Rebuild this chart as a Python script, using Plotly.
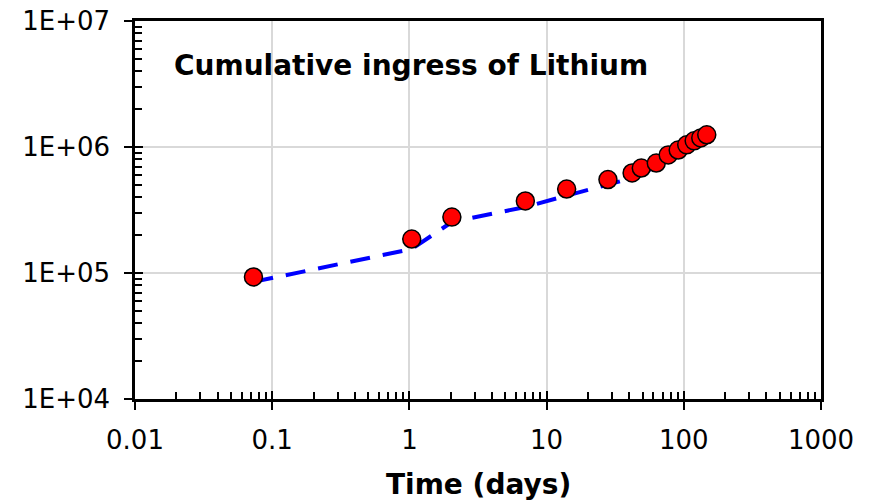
import plotly.graph_objects as go

# ---- data ----
time_days = [0.073, 1.04, 2.04, 7, 14, 28, 42, 49, 63, 77, 91, 105, 119, 133, 147]
measured = [93000, 186000, 278000, 373000, 464000, 552000, 622000, 681000, 746000,
            865000, 946000, 1040000, 1120000, 1180000, 1250000]
model = [85000, 155000, 254000, 334000, 411000, 499000, 567000, 625000, 690000,
         800000, 875000, 960000, 1030000, 1090000, 1160000]

x_tickvals = [0.01, 0.1, 1, 10, 100, 1000]
x_ticktext = ["0.01", "0.1", "1", "10", "100", "1000"]
y_tickvals = [1e4, 1e5, 1e6, 1e7]
y_ticktext = ["1E+04", "1E+05", "1E+06", "1E+07"]

title_text = "Cumulative ingress of Lithium"
x_title = "Time (days)"

FONT = "DejaVu Sans"

# page offset of the figure (default body margin)
OFF = 8
W, H = 871 - OFF, 502 - OFF
L = 135 - OFF
T = 21 - OFF
R = W - (821 - OFF)
B = H - (399 - OFF)
PW, PH = W - L - R, H - T - B

fig = go.Figure()

fig.add_trace(go.Scatter(
    x=time_days, y=model, mode="lines",
    line=dict(color="#0000ff", width=4, dash="20px,13px"),
    hoverinfo="skip", showlegend=False,
))
fig.add_trace(go.Scatter(
    x=time_days, y=measured, mode="markers",
    marker=dict(color="#ff0000", size=18, line=dict(color="black", width=1.5)),
    showlegend=False,
))
# invisible trace to create overlay axes for inside ticks
fig.add_trace(go.Scatter(
    x=time_days, y=measured, mode="markers", xaxis="x2", yaxis="y2",
    marker=dict(opacity=0), hoverinfo="skip", showlegend=False,
))

axis_font = dict(family=FONT, size=26, color="black")

fig.update_layout(
    width=W, height=H,
    margin=dict(l=L, r=R, t=T, b=B, autoexpand=False),
    paper_bgcolor="white", plot_bgcolor="white",
    xaxis=dict(
        type="log", range=[-2, 3], automargin=False,
        tickvals=x_tickvals, ticktext=x_ticktext,
        tickfont=axis_font, ticklabeloverflow="allow",
        ticks="outside", ticklen=8, tickwidth=2, tickcolor="black",
        showline=True, linecolor="black", linewidth=2.5, mirror=True,
        showgrid=True, gridcolor="#d9d9d9", gridwidth=2,
        zeroline=False, ticklabelstandoff=8,
    ),
    yaxis=dict(
        type="log", range=[4, 7], automargin=False,
        tickvals=y_tickvals, ticktext=y_ticktext,
        tickfont=axis_font, ticklabeloverflow="allow",
        ticks="outside", ticklen=8, tickwidth=2, tickcolor="black",
        showline=True, linecolor="black", linewidth=2.5, mirror=True,
        showgrid=True, gridcolor="#d9d9d9", gridwidth=2,
        zeroline=False, ticklabelstandoff=9,
    ),
    xaxis2=dict(
        type="log", range=[-2, 3], overlaying="x", anchor="y2", automargin=False,
        tickvals=x_tickvals, showticklabels=False,
        ticks="inside", ticklen=8, tickwidth=2, tickcolor="black",
        minor=dict(ticks="inside", ticklen=7, tickwidth=2, tickcolor="black", dtick="D1", showgrid=False),
        showgrid=False, showline=False, zeroline=False,
    ),
    yaxis2=dict(
        type="log", range=[4, 7], overlaying="y", anchor="x2", automargin=False,
        tickvals=y_tickvals, showticklabels=False,
        ticks="inside", ticklen=8, tickwidth=2, tickcolor="black",
        minor=dict(ticks="inside", ticklen=7, tickwidth=2, tickcolor="black", dtick="D1", showgrid=False),
        showgrid=False, showline=False, zeroline=False,
    ),
    annotations=[
        dict(
            text=title_text, xref="paper", yref="paper",
            x=(172 - 135) / PW, y=1 - (65 - 21) / PH,
            xanchor="left", yanchor="middle", showarrow=False,
            font=dict(family=FONT, size=28, color="black", weight="bold"),
        ),
        dict(
            text=x_title, xref="paper", yref="paper",
            x=(478 - 135) / PW, y=1 - (484 - 21) / PH,
            xanchor="center", yanchor="middle", showarrow=False,
            font=dict(family=FONT, size=28, color="black", weight="bold"),
        ),
    ],
)

fig.write_html("out.html")
